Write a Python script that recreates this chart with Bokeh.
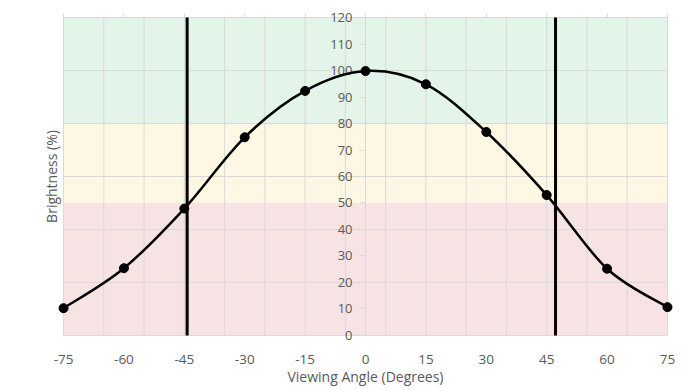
from bokeh.plotting import figure
from bokeh.models import LinearAxis, FixedTicker, Range1d, ColumnDataSource
from bokeh.embed import file_html
from bokeh.resources import INLINE

# ---- data ----
angles = [-75, -60, -45, -30, -15, 0, 15, 30, 45, 60, 75]
brightness = [10.3, 25.4, 47.9, 74.8, 92.3, 99.8, 94.8, 76.8, 53.0, 25.2, 10.7]
cutoff_angles = [-44.3, 47.2]
band_bottom = [0, 50, 80]
band_top = [50, 80, 120]
band_colors = ["#F8E3E4", "#FEF7E4", "#E3F4E9"]
x_ticks = [-75, -60, -45, -30, -15, 0, 15, 30, 45, 60, 75]
x_grid = [-75, -65, -55, -45, -35, -25, -15, -5, 5, 15, 25, 35, 45, 55, 65, 75]
y_ticks = [0, 10, 20, 30, 40, 50, 60, 70, 80, 90, 100, 110, 120]
y_grid = [0, 20, 40, 60, 80, 100, 120]

FONT = "Open Sans"
TXT = "#595959"
GRID = "#D9D9D9"

x_min, x_max = x_ticks[0], x_ticks[-1]
y_min, y_max = y_ticks[0], y_ticks[-1]

p = figure(width=693, height=390, output_backend="svg", toolbar_location=None,
           x_range=Range1d(x_min - 1.5, x_max + 1.5), y_range=Range1d(y_min - 3.4, y_max + 3.4),
           x_axis_location=None, y_axis_location=None,
           min_border_left=57, min_border_right=20, min_border_top=8, min_border_bottom=46)
p.outline_line_color = None
p.background_fill_color = "white"
p.xgrid.visible = False
p.ygrid.visible = False

# bands
n = len(band_bottom)
band_src = ColumnDataSource(dict(left=[x_min] * n, right=[x_max] * n, bottom=band_bottom,
                                 top=band_top, color=band_colors))
r = p.quad(left="left", right="right", bottom="bottom", top="top", fill_color="color",
           line_color=None, source=band_src)
r.level = "image"

# grid lines (bounded to the plotted area)
gv = p.segment(x0=x_grid, y0=[y_min] * len(x_grid), x1=x_grid, y1=[y_max] * len(x_grid),
               line_color=GRID, line_width=1)
gh = p.segment(x0=[x_min] * len(y_grid), y0=y_grid, x1=[x_max] * len(y_grid), y1=y_grid,
               line_color=GRID, line_width=1)
gv.level = "underlay"
gh.level = "underlay"

# bottom axis (labels only)
xb = LinearAxis(ticker=FixedTicker(ticks=x_ticks), axis_label="Viewing Angle (Degrees)")
xb.major_label_overrides = {t: str(t) for t in x_ticks}
xb.axis_line_color = None
xb.major_tick_line_color = None
xb.minor_tick_line_color = None
xb.major_tick_out = 0
xb.major_tick_in = 0
xb.major_label_standoff = 10
xb.major_label_text_font = FONT
xb.major_label_text_font_size = "13.5px"
xb.major_label_text_color = TXT
xb.axis_label_text_font = FONT
xb.axis_label_text_font_size = "14px"
xb.axis_label_text_font_style = "normal"
xb.axis_label_text_color = TXT
xb.axis_label_standoff = 0
p.add_layout(xb, "below")

# top axis line with ticks at y = 120
xt = LinearAxis(ticker=FixedTicker(ticks=x_ticks), fixed_location=y_max, bounds=(x_min, x_max))
xt.axis_line_color = GRID
xt.major_tick_line_color = GRID
xt.major_tick_out = 4
xt.major_tick_in = 0
xt.minor_tick_line_color = None
xt.major_label_text_font_size = "0px"
xt.major_label_text_color = None
xt.major_label_standoff = 0
xt.level = "underlay"
p.add_layout(xt, "above")

# left axis, label only
yl = LinearAxis(ticker=FixedTicker(ticks=[]), axis_label="Brightness (%)")
yl.axis_line_color = None
yl.major_tick_line_color = None
yl.minor_tick_line_color = None
yl.major_tick_out = 0
yl.major_label_text_font_size = "0px"
yl.major_label_text_color = None
yl.axis_label_text_font = FONT
yl.axis_label_text_font_size = "14px"
yl.axis_label_text_font_style = "normal"
yl.axis_label_text_color = TXT
yl.axis_label_standoff = -3
p.add_layout(yl, "left")

# y axis at x = 0
y0 = LinearAxis(ticker=FixedTicker(ticks=y_ticks), fixed_location=0, bounds=(y_min, y_max))
y0.axis_line_color = GRID
y0.major_tick_line_color = GRID
y0.major_tick_out = 5
y0.major_tick_in = 0
y0.minor_tick_line_color = None
y0.major_label_standoff = 8
y0.major_label_text_font = FONT
y0.major_label_text_font_size = "13px"
y0.major_label_text_color = TXT
y0.level = "underlay"
p.add_layout(y0, "left")

# cutoff lines
p.segment(x0=cutoff_angles, y0=[y_min] * len(cutoff_angles), x1=cutoff_angles,
          y1=[y_max] * len(cutoff_angles), line_color="black", line_width=3)

# smooth curve (Catmull-Rom -> cubic bezier, like Excel smoothing)
x0s, y0s, x1s, y1s, cx0, cy0, cx1, cy1 = [], [], [], [], [], [], [], []
m = len(angles)
for i in range(m - 1):
    pa = (angles[max(i - 1, 0)], brightness[max(i - 1, 0)])
    pb = (angles[i], brightness[i])
    pc = (angles[i + 1], brightness[i + 1])
    pd = (angles[min(i + 2, m - 1)], brightness[min(i + 2, m - 1)])
    x0s.append(pb[0]); y0s.append(pb[1])
    x1s.append(pc[0]); y1s.append(pc[1])
    cx0.append(pb[0] + (pc[0] - pa[0]) / 6); cy0.append(pb[1] + (pc[1] - pa[1]) / 6)
    cx1.append(pc[0] - (pd[0] - pb[0]) / 6); cy1.append(pc[1] - (pd[1] - pb[1]) / 6)
p.bezier(x0=x0s, y0=y0s, x1=x1s, y1=y1s, cx0=cx0, cy0=cy0, cx1=cx1, cy1=cy1,
         line_color="black", line_width=2.5)

p.scatter(angles, brightness, size=9, color="black")

open("out.html", "w").write(file_html(p, INLINE))
